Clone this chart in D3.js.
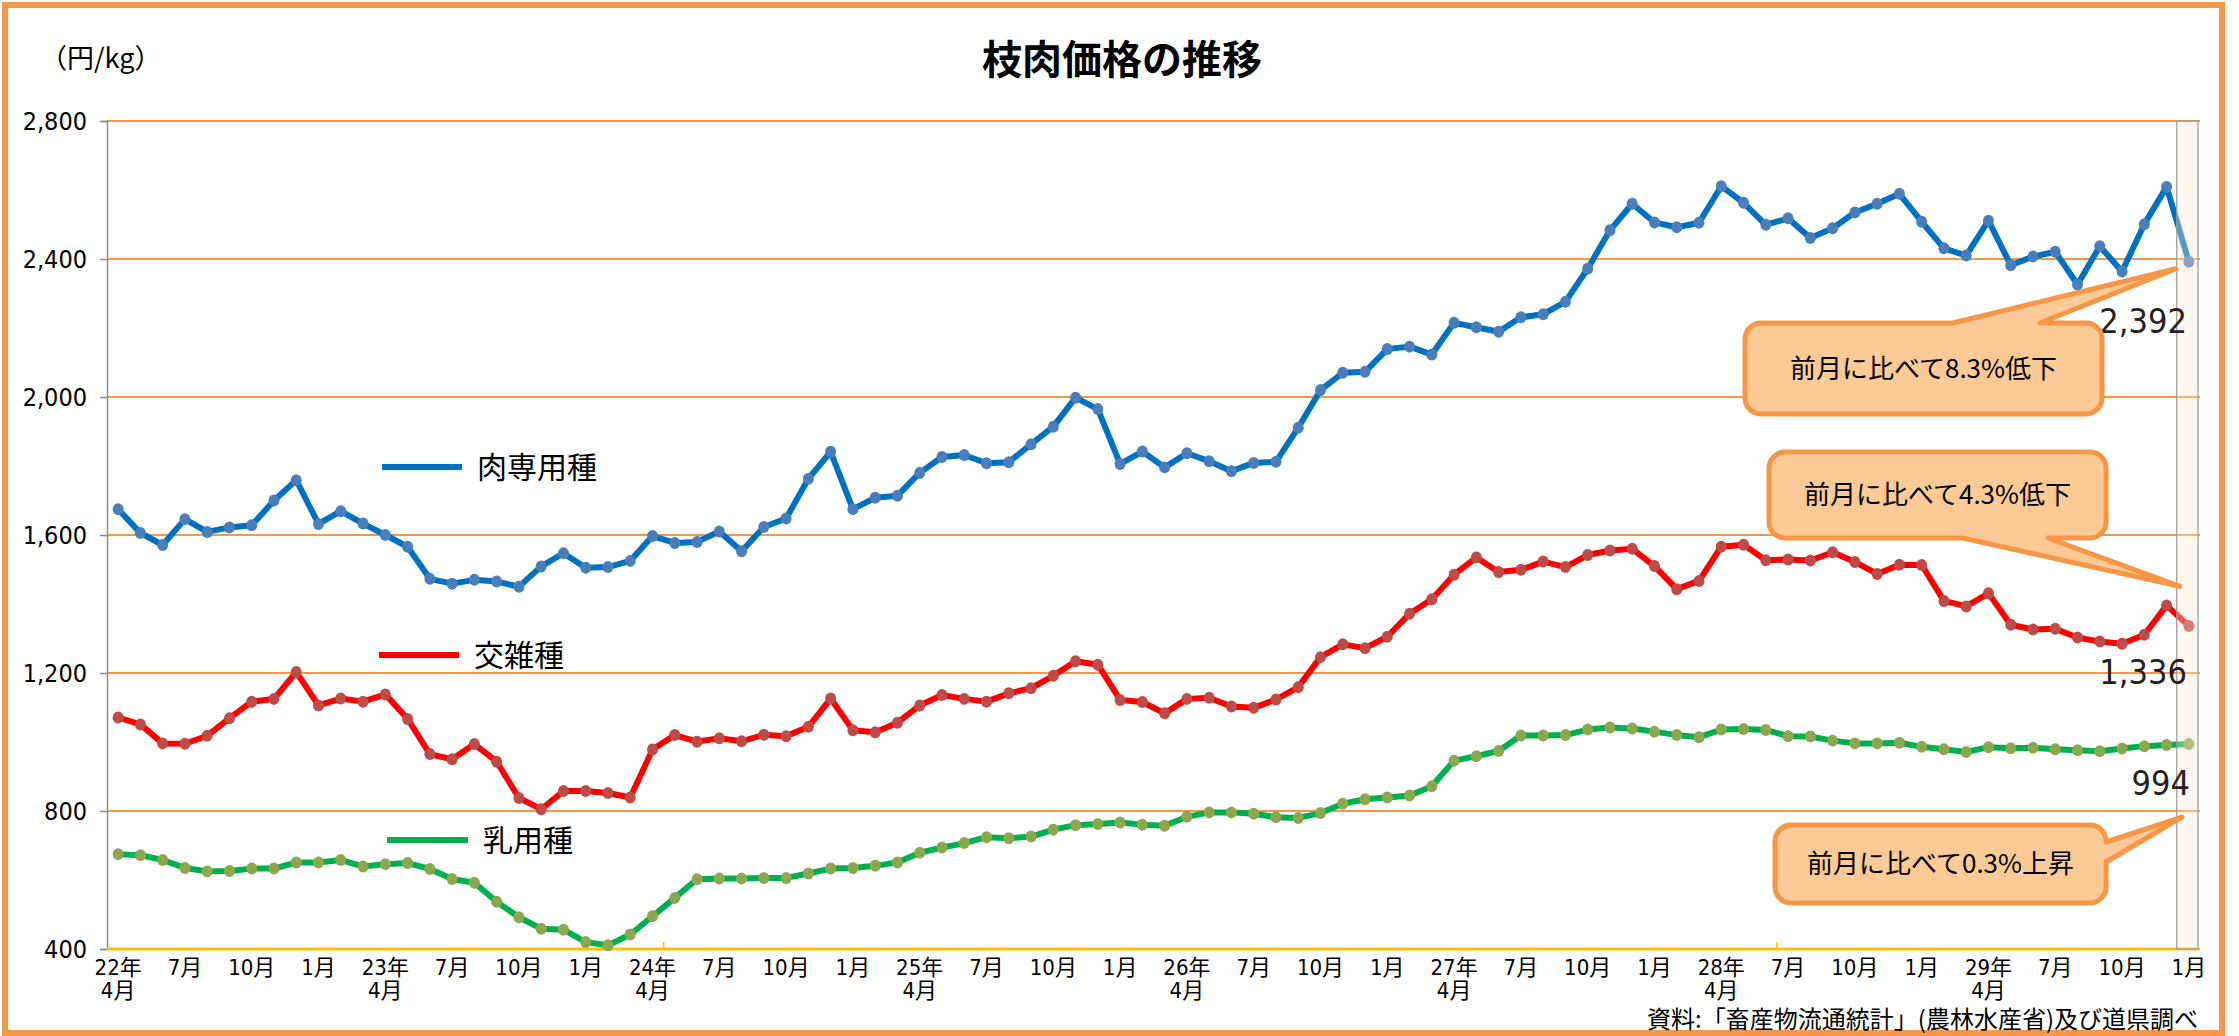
<!DOCTYPE html>
<html>
<head>
<meta charset="utf-8">
<script src="https://cdn.jsdelivr.net/npm/d3@7"></script>
<style>
  body { margin: 0; background: #fff; }
  svg { display: block; }
</style>
</head>
<body>
<div class="container"></div>
<script>
// 肉専用種 / 交雑種 / 乳用種  (円/kg), 22年4月 ～ 30年1月
const wagyu = [1675,1606,1571,1646,1609,1622,1628,1700,1759,1632,1669,1633,
  1600,1566,1473,1459,1470,1465,1450,1509,1547,1505,1507,1525,
  1597,1577,1580,1610,1553,1623,1648,1763,1841,1675,1708,1714,
  1780,1826,1832,1808,1811,1863,1914,1998,1965,1806,1842,1796,
  1837,1814,1785,1809,1812,1911,2020,2070,2073,2139,2146,2123,
  2215,2202,2189,2231,2240,2276,2372,2483,2560,2506,2492,2505,
  2611,2563,2499,2518,2461,2489,2535,2560,2589,2508,2431,2410,
  2511,2382,2407,2421,2326,2437,2364,2501,2609,2392];
const cross = [1071,1051,996,995,1018,1069,1117,1125,1203,1106,1126,1117,
  1138,1067,965,950,994,943,838,805,858,858,852,839,
  978,1020,1001,1011,1002,1021,1017,1044,1126,1034,1028,1056,
  1106,1136,1125,1117,1141,1156,1192,1234,1224,1122,1116,1083,
  1125,1128,1103,1099,1123,1159,1246,1283,1272,1305,1372,1414,
  1485,1535,1493,1499,1523,1507,1542,1555,1560,1510,1443,1467,
  1566,1572,1527,1529,1526,1550,1522,1487,1514,1513,1409,1393,
  1431,1340,1326,1328,1303,1291,1285,1311,1396,1336];
const dairy = [675,672,658,635,625,626,633,633,651,651,658,639,
  646,649,632,603,592,537,492,459,456,420,411,442,
  495,548,602,604,604,606,606,619,633,635,641,651,
  679,694,707,724,721,726,746,759,762,767,760,757,
  783,796,796,792,782,780,794,821,834,839,845,872,
  946,959,974,1019,1019,1020,1036,1042,1039,1030,1020,1014,
  1036,1038,1035,1017,1016,1004,996,996,998,986,979,971,
  985,982,983,979,976,973,981,988,991,994];

// one label every 3 months ("|" = line break)
const tickLabels = ["22年|4月","7月","10月","1月","23年|4月","7月","10月","1月",
  "24年|4月","7月","10月","1月","25年|4月","7月","10月","1月",
  "26年|4月","7月","10月","1月","27年|4月","7月","10月","1月",
  "28年|4月","7月","10月","1月","29年|4月","7月","10月","1月"];
const yTicks = [400, 800, 1200, 1600, 2000, 2400, 2800];
const seriesNames = ["肉専用種", "交雑種", "乳用種"];
const lastLabels = ["2,392", "1,336", "994"];
const calloutTexts = ["前月に比べて8.3%低下", "前月に比べて4.3%低下", "前月に比べて0.3%上昇"];

const W = 2239, H = 1036;
const jp = "'Noto Sans CJK JP', sans-serif";
const narrow = "'Liberation Sans Narrow', 'DejaVu Sans Condensed', 'Noto Sans CJK JP', sans-serif";

const svg = d3.select(".container").append("svg")
    .attr("width", W).attr("height", H);

const x = d3.scaleBand()
    .domain(d3.range(wagyu.length))
    .range([107, 2200]);
const y = d3.scaleLinear()
    .domain([400, 2800])
    .range([949, 121]);
const cx = (i) => x(i) + x.bandwidth() / 2;

// frame
svg.append("rect")
    .attr("x", 5).attr("y", 5).attr("width", 2217).attr("height", 1028)
    .attr("fill", "#fff").attr("stroke", "#F79646").attr("stroke-width", 6);

// title + unit
svg.append("text")
    .attr("x", 1122).attr("y", 74)
    .attr("text-anchor", "middle")
    .style("font", `bold 40px ${jp}`)
    .text("枝肉価格の推移");
svg.append("text")
    .attr("x", 40).attr("y", 68)
    .style("font", `27px ${jp}`)
    .text("（円/kg）");

// gridlines
svg.append("g").selectAll("line")
    .data(yTicks.filter(d => d > 400))
    .join("line")
        .attr("x1", 107).attr("x2", 2200)
        .attr("y1", d => y(d)).attr("y2", d => y(d))
        .attr("stroke", "#F79646").attr("stroke-width", 2);

// y axis
const yAxis = svg.append("g")
    .attr("transform", "translate(107,0)")
    .call(d3.axisLeft(y).tickValues(yTicks).tickFormat(d3.format(",")).tickSize(7).tickPadding(13));
yAxis.select(".domain").attr("stroke", "#8c8c8c").attr("stroke-width", 1.5);
yAxis.selectAll(".tick line").attr("stroke", "#8c8c8c").attr("stroke-width", 1.5);
yAxis.selectAll("text").style("font", `25px ${narrow}`).attr("fill", "#000");

// x axis
const xAxis = svg.append("g")
    .attr("transform", "translate(0,949)")
    .call(d3.axisBottom(x).tickValues(d3.range(0, wagyu.length, 3)).tickSize(0)
        .tickFormat((d, i) => tickLabels[i]));
xAxis.select(".domain").remove();
xAxis.selectAll("text")
    .style("font", `22px ${narrow}`).attr("fill", "#000")
    .each(function(d, i) {
        const parts = tickLabels[i].split("|");
        const t = d3.select(this).text(null).attr("y", 0).attr("dy", null);
        parts.forEach((p, k) => t.append("tspan").attr("x", 0).attr("y", 26 + k * 23).text(p));
    });
svg.append("line")
    .attr("x1", 107).attr("x2", 2200).attr("y1", 949).attr("y2", 949)
    .attr("stroke", "#FFC000").attr("stroke-width", 3);
svg.append("g").selectAll("line")
    .data([25, 75])
    .join("line")
        .attr("x1", d => x(d)).attr("x2", d => x(d))
        .attr("y1", 949).attr("y2", 942)
        .attr("stroke", "#FFC000").attr("stroke-width", 1.5);

// series
const series = [
    { name: seriesNames[0], values: wagyu, line: "#0070C0", marker: "#4A7EBB" },
    { name: seriesNames[1], values: cross, line: "#FF0000", marker: "#BE4B48" },
    { name: seriesNames[2], values: dairy, line: "#00B050", marker: "#8DA74F" }
];
const line = d3.line().x((d, i) => cx(i)).y(d => y(d));

const plot = svg.append("g");
series.forEach(s => {
    plot.append("path")
        .attr("d", line(s.values))
        .attr("fill", "none").attr("stroke", s.line)
        .attr("stroke-width", 6).attr("stroke-linejoin", "round");
    plot.append("g").selectAll("ellipse")
        .data(s.values)
        .join("ellipse")
            .attr("cx", (d, i) => cx(i)).attr("cy", d => y(d))
            .attr("rx", 5.5).attr("ry", 6)
            .attr("fill", s.marker);
});

// highlighted latest month
const last = wagyu.length - 1;
svg.append("rect")
    .attr("x", x(last) - 1).attr("y", 121)
    .attr("width", x.bandwidth() - 1).attr("height", 828)
    .attr("fill", "#FBE5D5").attr("fill-opacity", 0.35)
    .attr("stroke", "#999").attr("stroke-width", 1.2);

// latest values
const labelOffsets = [71, 58, 51];
series.forEach((s, k) => {
    svg.append("text")
        .attr("x", cx(last) + (k === 2 ? 1 : -2))
        .attr("y", y(s.values[last]) + labelOffsets[k])
        .attr("text-anchor", "end")
        .style("font", `34px ${narrow}`)
        .attr("fill", "#222")
        .text(lastLabels[k]);
});

// callouts
function calloutPath(bx, by, w, h, r, p) {
    let d = `M${bx + r},${by}`;
    if (p.edge === "top") d += `L${p.a},${by}L${p.tx},${p.ty}L${p.b},${by}`;
    d += `L${bx + w - r},${by}A${r},${r} 0 0 1 ${bx + w},${by + r}`;
    if (p.edge === "right") d += `L${bx + w},${p.a}L${p.tx},${p.ty}L${bx + w},${p.b}`;
    d += `L${bx + w},${by + h - r}A${r},${r} 0 0 1 ${bx + w - r},${by + h}`;
    if (p.edge === "bottom") d += `L${p.b},${by + h}L${p.tx},${p.ty}L${p.a},${by + h}`;
    d += `L${bx + r},${by + h}A${r},${r} 0 0 1 ${bx},${by + h - r}`;
    d += `L${bx},${by + r}A${r},${r} 0 0 1 ${bx + r},${by}Z`;
    return d;
}
const boxes = [
    { bx: 1745, by: 323, w: 357, h: 91, p: { edge: "top", a: 1953, b: 2040, tx: cx(last) - 13, ty: y(wagyu[last]) + 7 } },
    { bx: 1769, by: 452, w: 337, h: 86, p: { edge: "bottom", a: 1963, b: 2048, tx: cx(last) - 9, ty: y(cross[last - 1]) - 19 } },
    { bx: 1775, by: 825, w: 331, h: 78, p: { edge: "right", a: 842, b: 862, tx: cx(last) - 7, ty: y(dairy[last]) + 73 } }
];
boxes.forEach((b, k) => {
    const g = svg.append("g");
    g.append("path")
        .attr("d", calloutPath(b.bx, b.by, b.w, b.h, 16, b.p))
        .attr("fill", "#FCCA96").attr("stroke", "#F79646").attr("stroke-width", 5)
        .attr("stroke-linejoin", "round");
    g.append("text")
        .attr("x", b.bx + b.w / 2).attr("y", b.by + b.h / 2 + 9)
        .attr("text-anchor", "middle")
        .style("font", `26px ${jp}`)
        .text(calloutTexts[k]);
});

// legend placed inside the plot
const legendPos = [[382, 462, 467], [379, 459, 655], [387, 468, 840]];
series.forEach((s, k) => {
    const [x1, x2, ly] = legendPos[k];
    svg.append("line")
        .attr("x1", x1).attr("x2", x2).attr("y1", ly).attr("y2", ly)
        .attr("stroke", s.line).attr("stroke-width", 6);
    svg.append("text")
        .attr("x", x2 + 15).attr("y", ly + 11)
        .style("font", `30px ${jp}`)
        .text(s.name);
});

// source
svg.append("text")
    .attr("x", 2198).attr("y", 1028)
    .attr("text-anchor", "end")
    .style("font", `24px ${jp}`)
    .text("資料:「畜産物流通統計」(農林水産省)及び道県調べ");
</script>
</body>
</html>
